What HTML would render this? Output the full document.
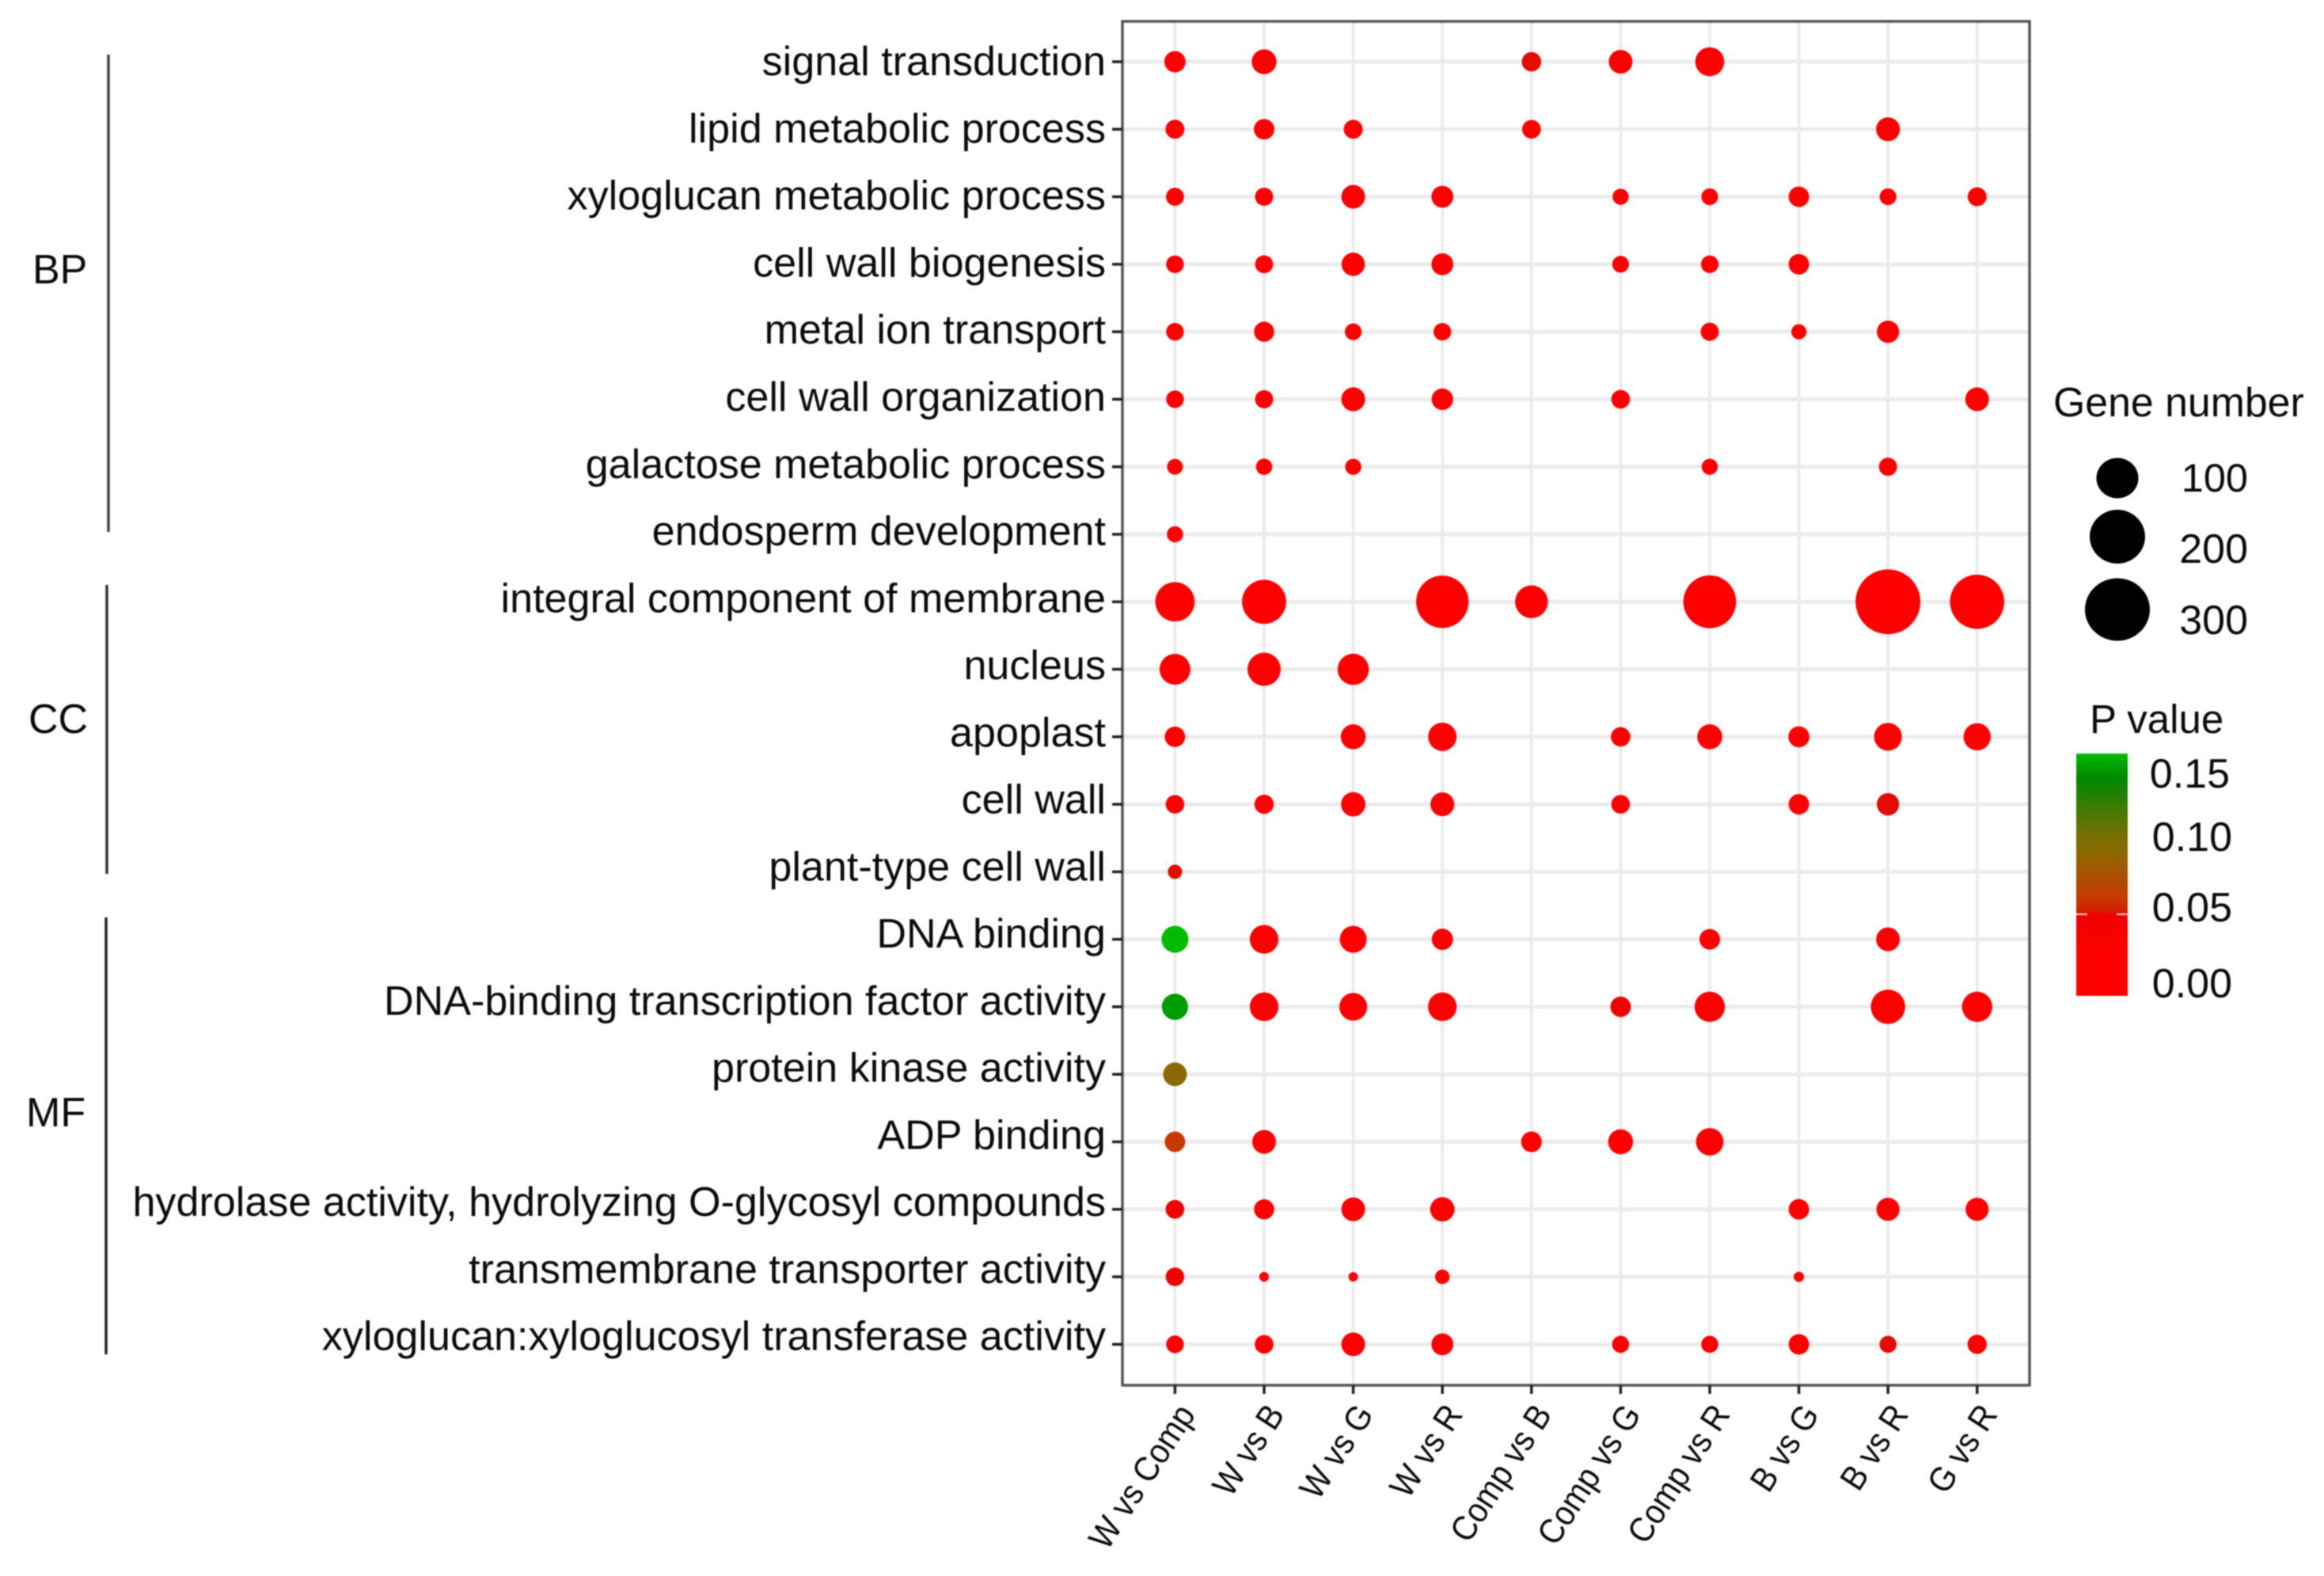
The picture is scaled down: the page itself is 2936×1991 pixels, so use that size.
<!DOCTYPE html>
<html lang="en">
<head>
<meta charset="utf-8">
<title>GO enrichment bubble chart</title>
<style>
html,body{margin:0;padding:0;background:#fff;}
svg{display:block;filter:blur(0.9px);}
text{font-family:"Liberation Sans",sans-serif;fill:#0a0a0a;}
</style>
</head>
<body>
<svg id="chart" xmlns="http://www.w3.org/2000/svg" width="2936" height="1991" viewBox="0 0 2936 1991">
  <rect x="0" y="0" width="2936" height="1991" fill="#fff"/>
  <g id="grid"></g>
  <g id="dots"></g>
  <rect x="1418" y="27" width="1146" height="1723" fill="none" stroke="#555" stroke-width="3.5"/>
  <g id="yaxis"></g>
  <g id="xaxis"></g>

  <g>
    <line x1="137" y1="69" x2="137" y2="672" stroke="#444" stroke-width="3.5"/>
    <line x1="135" y1="739" x2="135" y2="1104" stroke="#333" stroke-width="3.5"/>
    <line x1="134" y1="1159" x2="134" y2="1711" stroke="#222" stroke-width="3.5"/>
    <text x="41" y="358" font-size="52">BP</text>
    <text x="36" y="926" font-size="52">CC</text>
    <text x="33" y="1423" font-size="52">MF</text>
  </g>

  <g>
    <text x="2594" y="526" font-size="51.8">Gene number</text>
    <ellipse cx="2675" cy="604" rx="26.5" ry="25.5" fill="#000"/>
    <ellipse cx="2675" cy="678" rx="35" ry="34" fill="#000"/>
    <ellipse cx="2675" cy="770" rx="41" ry="39.5" fill="#000"/>
    <text x="2840" y="621" font-size="50.5" text-anchor="end">100</text>
    <text x="2840" y="711" font-size="52" text-anchor="end">200</text>
    <text x="2840" y="801" font-size="52" text-anchor="end">300</text>
  </g>

  <g>
    <defs>
      <linearGradient id="pGradient" gradientUnits="userSpaceOnUse" x1="0" x2="0" y1="1258" y2="952"></linearGradient>
    </defs>
    <text x="2640" y="926" font-size="51">P value</text>
    <rect x="2623" y="952" width="65" height="306" fill="url(#pGradient)"/>
    <line x1="2623" x2="2637" y1="1054" y2="1054" stroke="#7c6800" stroke-width="2"/>
    <line x1="2674" x2="2688" y1="1054" y2="1054" stroke="#7c6800" stroke-width="2"/>
    <line x1="2623" x2="2637" y1="1155" y2="1155" stroke="#ffd0c8" stroke-width="2"/>
    <line x1="2674" x2="2688" y1="1155" y2="1155" stroke="#ffd0c8" stroke-width="2"/>
    <text x="2817" y="995" font-size="52" text-anchor="end">0.15</text>
    <text x="2820" y="1075" font-size="52" text-anchor="end">0.10</text>
    <text x="2820" y="1164" font-size="52" text-anchor="end">0.05</text>
    <text x="2820" y="1260" font-size="52" text-anchor="end">0.00</text>
  </g>
</svg>

<script>
const comparisons = ["W vs Comp","W vs B","W vs G","W vs R","Comp vs B","Comp vs G","Comp vs R","B vs G","B vs R","G vs R"];

const terms = [
  "signal transduction",
  "lipid metabolic process",
  "xyloglucan metabolic process",
  "cell wall biogenesis",
  "metal ion transport",
  "cell wall organization",
  "galactose metabolic process",
  "endosperm development",
  "integral component of membrane",
  "nucleus",
  "apoplast",
  "cell wall",
  "plant-type cell wall",
  "DNA binding",
  "DNA-binding transcription factor activity",
  "protein kinase activity",
  "ADP binding",
  "hydrolase activity, hydrolyzing O-glycosyl compounds",
  "transmembrane transporter activity",
  "xyloglucan:xyloglucosyl transferase activity"
];

const _ = null;

const geneNumbers = [
  [20.5, 29.5, _,    _,    16.4, 26.5, 43,   _,    _,    _   ],
  [15.5, 18.7, 15.5, _,    15,   _,    _,    _,    27,   _   ],
  [13.7, 14,   26.5, 22,   _,    10.5, 11.5, 18.7, 11.5, 15.5],
  [13,   13.7, 25.5, 22,   _,    11.5, 13,   18.7, _,    _   ],
  [13,   18,   11.5, 13,   _,    _,    14,   9,    23,   _   ],
  [13,   14,   27,   21,   _,    15,   _,    _,    _,    26.5],
  [10,   10.7, 10.5, _,    _,    _,    10.5, _,    14,   _   ],
  [10.5, _,    _,    _,    _,    _,    _,    _,    _,    _   ],
  [90,   119,  _,    180,  58,   _,    183,  _,    300,  195 ],
  [50,   60,   52,   _,    _,    _,    _,    _,    _,    _   ],
  [18.7, _,    30,   41,   _,    16.4, 30,   20,   39,   37  ],
  [14.7, 16,   28.5, 27,   _,    15,   _,    18.7, 23,   _   ],
  [7.8,  _,    _,    _,    _,    _,    _,    _,    _,    _   ],
  [36,   42,   36,   20.5, _,    _,    19,   _,    26.5, _   ],
  [34,   42,   39,   42,   _,    18.5, 48,   _,    65,   48  ],
  [26.5, _,    _,    _,    _,    _,    _,    _,    _,    _   ],
  [18.7, 26.5, _,    _,    19,   30,   38,   _,    _,    _   ],
  [15,   18,   26.5, 28.5, _,    _,    _,    18.7, 25,   25  ],
  [14.7, 3.1,  2.9,  8.2,  _,    _,    _,    3.5,  _,    _   ],
  [13,   15,   26.5, 22,   _,    12,   12,   18.7, 12,   16  ]
];

const pValues = [
  [0.005,0.005,_,_,0.051,0.005,0.005,_,_,_],
  [0.005,0.005,0.005,_,0.005,_,_,_,0.005,_],
  [0.005,0.005,0.005,0.005,_,0.005,0.005,0.005,0.005,0.005],
  [0.005,0.005,0.005,0.005,_,0.005,0.005,0.005,_,_],
  [0.005,0.005,0.005,0.005,_,_,0.005,0.005,0.005,_],
  [0.005,0.005,0.005,0.005,_,0.005,_,_,_,0.005],
  [0.005,0.005,0.005,_,_,_,0.005,_,0.005,_],
  [0.005,_,_,_,_,_,_,_,_,_],
  [0.005,0.005,_,0.005,0.005,_,0.005,_,0.005,0.005],
  [0.005,0.005,0.005,_,_,_,_,_,_,_],
  [0.005,_,0.005,0.005,_,0.005,0.005,0.005,0.005,0.005],
  [0.005,0.005,0.005,0.005,_,0.005,_,0.005,0.051,_],
  [0.051,_,_,_,_,_,_,_,_,_],
  [0.15,0.005,0.005,0.005,_,_,0.005,_,0.005,_],
  [0.141,0.005,0.005,0.005,_,0.049,0.005,_,0.005,0.005],
  [0.09,_,_,_,_,_,_,_,_,_],
  [0.06,0.005,_,_,0.005,0.005,0.005,_,_,_],
  [0.049,0.005,0.005,0.005,_,_,_,0.005,0.005,0.005],
  [0.049,0.005,0.005,0.005,_,_,_,0.005,_,_],
  [0.005,0.005,0.005,0.005,_,0.005,0.005,0.005,0.051,0.005]
];

const pStops = [0, 0.03, 0.0495, 0.0505, 0.053, 0.06, 0.09, 0.10, 0.135, 0.15];
const pStopColors = [[255,0,0],[255,0,0],[240,0,0],[232,6,0],[210,32,0],[200,56,0],[138,106,0],[112,112,0],[0,136,0],[0,187,0]];

const SVG_NS = "http://www.w3.org/2000/svg";

function xScale(i){ return 1484.4 + i * 112.6; }
function yScale(j){ return 78 + j * 85.28; }
function labelBaseline(j){ return 95.2 + j * 84.76; }
function radiusScale(v){ return 3.85 * Math.pow(v, 0.4145); }
function pColor(p){
  let k = 0;
  while (k < pStops.length - 2 && p > pStops[k + 1]) k++;
  const t = Math.min(1, Math.max(0, (p - pStops[k]) / (pStops[k + 1] - pStops[k])));
  const a = pStopColors[k], b = pStopColors[k + 1];
  return "rgb(" + [0,1,2].map(c => Math.round(a[c] + (b[c] - a[c]) * t)).join(",") + ")";
}
function make(tag, parent, attrs){
  const node = document.createElementNS(SVG_NS, tag);
  for (const key in attrs) node.setAttribute(key, attrs[key]);
  parent.appendChild(node);
  return node;
}

const grid = document.getElementById("grid");
const dots = document.getElementById("dots");
const yaxis = document.getElementById("yaxis");
const xaxis = document.getElementById("xaxis");
const gradient = document.getElementById("pGradient");

pStops.forEach(function(p, k){
  const domainMax = 0.15;
  const stop = make("stop", gradient, {offset: p / domainMax, "stop-color": pColor(p)});
  
  
});

terms.forEach(function(term, j){
  const y = yScale(j);
  const line = make("line", grid, {x1: 1418, x2: 2564, y1: y, y2: y, stroke: "#ebebeb", "stroke-width": 5});
  
  
  const tick = make("line", yaxis, {x1: 1405, x2: 1418, y1: y, y2: y, stroke: "#222", "stroke-width": 3.5});
  
  
  const label = make("text", yaxis, {x: 1397, y: labelBaseline(j), "font-size": 52.1, "text-anchor": "end"});
  label.textContent = term;
  
  
});

comparisons.forEach(function(name, i){
  const x = xScale(i);
  const line = make("line", grid, {x1: x, x2: x, y1: 27, y2: 1750, stroke: "#ebebeb", "stroke-width": 4});
  
  
  const tick = make("line", xaxis, {x1: x, x2: x, y1: 1750, y2: 1761, stroke: "#222", "stroke-width": 3.5});
  
  
  const label = make("text", xaxis, {
    x: 0, y: 0, "font-size": 44, "text-anchor": "end",
    transform: "translate(" + (x + 27) + ",1787) rotate(-57) scale(0.91,1)"
  });
  label.textContent = name;
  
  
});

geneNumbers.forEach(function(row, j){
  row.forEach(function(v, i){
    if (v === null) return;
    const dot = make("circle", dots, {cx: xScale(i), cy: yScale(j), r: radiusScale(v), fill: pColor(pValues[j][i])});
    
    
  });
});
</script>
</body>
</html>
